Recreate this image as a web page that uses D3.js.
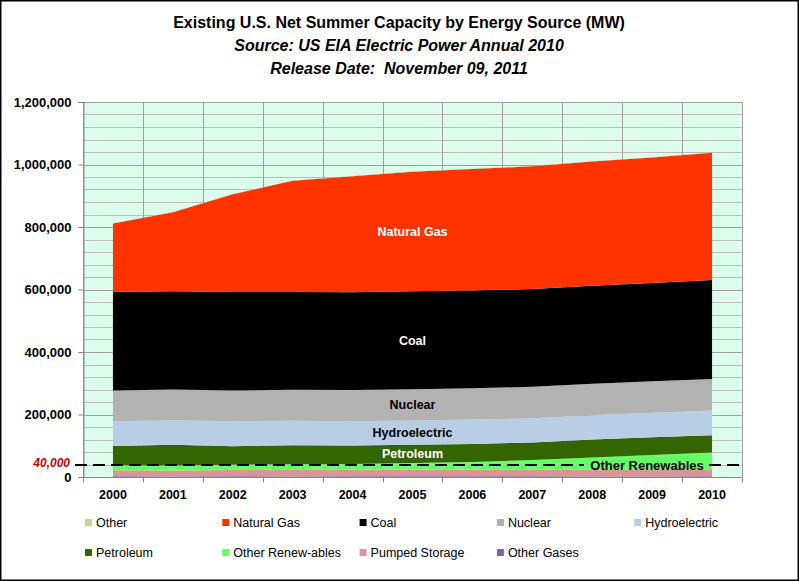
<!DOCTYPE html>
<html><head><meta charset="utf-8">
<script src="https://cdn.jsdelivr.net/npm/d3@7"></script>
<style>body{margin:0;background:#fff}svg{display:block}text{font-family:"Liberation Sans",Arial,sans-serif}</style>
</head><body><svg id="c" width="799" height="581"></svg>
<script>
const years = [2000,2001,2002,2003,2004,2005,2006,2007,2008,2009,2010];
const otherGases      = [2342,1670,2008,1994,2296,2063,2256,2313,1995,1932,2700];
const pumpedStorage   = [19522,19096,20373,20522,20764,21347,21461,21886,21858,22160,22268];
const otherRenewables = [15572,16101,16710,18199,18763,21205,24113,30069,38492,46138,53112];
const petroleum       = [61837,66162,59651,60730,59119,58548,58097,56068,57445,56781,55647];
const hydroelectric   = [79393,78916,79356,78694,77641,77541,77821,77885,77930,78518,78825];
const nuclear         = [97860,98159,98657,99209,99628,99988,100334,100266,100755,101004,101167];
const coal            = [315114,314230,315350,313019,313020,313380,312956,312738,313322,314294,316800];
const naturalGas      = [219590,252832,312512,355442,371011,383061,388294,392876,397432,401272,407028];
const other           = [519,581,686,638,700,887,882,788,942,888,1030];
const yTicks = [0,200000,400000,600000,800000,1000000,1200000];
const threshold = 40000;

const seriesDefs = [
  {key:"Other Gases", legend:"Other Gases", vals:otherGases, color:"#8064A2"},
  {key:"Pumped Storage", legend:"Pumped Storage", vals:pumpedStorage, color:"#D99694"},
  {key:"Other Renewables", legend:"Other Renew-ables", vals:otherRenewables, color:"#66FF66"},
  {key:"Petroleum", legend:"Petroleum", vals:petroleum, color:"#336600", label:"#fff"},
  {key:"Hydroelectric", legend:"Hydroelectric", vals:hydroelectric, color:"#B9CDE5", label:"#000"},
  {key:"Nuclear", legend:"Nuclear", vals:nuclear, color:"#B2B2B2", label:"#000"},
  {key:"Coal", legend:"Coal", vals:coal, color:"#000000", label:"#fff"},
  {key:"Natural Gas", legend:"Natural Gas", vals:naturalGas, color:"#FF3300", label:"#fff"},
  {key:"Other", legend:"Other", vals:other, color:"#C3D69B"}
];
const legendOrder = ["Other","Natural Gas","Coal","Nuclear","Hydroelectric","Petroleum","Other Renewables","Pumped Storage","Other Gases"];

const svg = d3.select("#c");
const L=83, R=742, T=102, B=477;
const x = d3.scalePoint().domain(years).range([L,R]).padding(0.5);
const y = d3.scaleLinear().domain([0,1200000]).range([B,T]);
const step = x.step();

// frame
svg.append("rect").attr("x",0.75).attr("y",0.75).attr("width",797.5).attr("height",579.5).attr("fill","#fff").attr("stroke","#000").attr("stroke-width",1.5);

// plot bg
svg.append("rect").attr("x",L).attr("y",T).attr("width",R-L).attr("height",B-T).attr("fill","#dcfdeb");

// horizontal grid
const minor = d3.range(0,1200001,40000);
svg.append("g").selectAll("line").data(minor).join("line")
  .attr("x1",L).attr("x2",R).attr("y1",d=>Math.round(y(d))+0.5).attr("y2",d=>Math.round(y(d))+0.5)
  .attr("stroke",d=>d%200000===0?"#a0a0a0":"#bdbdbd").attr("stroke-width",1);
// vertical grid
const bounds = d3.range(0,years.length+1).map(i=>L+i*step);
svg.append("g").selectAll("line").data(bounds).join("line")
  .attr("x1",d=>Math.round(d)+0.5).attr("x2",d=>Math.round(d)+0.5).attr("y1",T).attr("y2",B)
  .attr("stroke","#a0a0a0");

// stack
const table = years.map((yr,i)=>{const o={year:yr}; seriesDefs.forEach(s=>o[s.key]=s.vals[i]); return o;});
const stack = d3.stack().keys(seriesDefs.map(s=>s.key))(table);
const area = d3.area().x(d=>x(d.data.year)).y0(d=>y(d[0])).y1(d=>y(d[1]));
svg.append("g").selectAll("path").data(stack).join("path")
  .attr("d",area).attr("fill",(d,i)=>seriesDefs[i].color);

// axes
const yAxis = svg.append("g").attr("transform",`translate(${L+0.5},0)`)
  .call(d3.axisLeft(y).tickValues(yTicks).tickSize(5).tickFormat(d3.format(",")));
yAxis.select(".domain").attr("stroke","#868686");
yAxis.selectAll(".tick line").attr("stroke","#868686");
yAxis.selectAll("text").attr("font-size",13).attr("font-weight","bold").attr("fill","#000").attr("x",-12);

const xAxisG = svg.append("g").attr("transform",`translate(0,${B+0.5})`);
xAxisG.append("line").attr("x1",L).attr("x2",R).attr("stroke","#868686");
xAxisG.selectAll(".tk").data(bounds).join("line").attr("class","tk")
  .attr("x1",d=>Math.round(d)+0.5).attr("x2",d=>Math.round(d)+0.5).attr("y1",0).attr("y2",5).attr("stroke","#868686");
xAxisG.selectAll("text").data(years).join("text")
  .attr("x",d=>x(d)).attr("y",21).attr("text-anchor","middle")
  .attr("font-size",12.5).attr("font-weight","bold").text(d=>d);

// series labels at 2005 midpoint
const labYear = 2005, li = years.indexOf(labYear);
stack.forEach((s,i)=>{
  const def = seriesDefs[i];
  if(!def.label) return;
  const mid = (s[li][0]+s[li][1])/2;
  svg.append("text").attr("x",x(labYear)).attr("y",y(mid)).attr("dy","0.35em")
    .attr("text-anchor","middle").attr("font-size",12.5).attr("font-weight","bold")
    .attr("fill",def.label).text(def.key);
});

// 40,000 dashed line
const ty = Math.round(y(threshold));
svg.append("line").attr("x1",75).attr("x2",584).attr("y1",ty).attr("y2",ty)
  .attr("stroke","#000").attr("stroke-width",2).attr("stroke-dasharray","12,6");
svg.append("line").attr("x1",709).attr("x2",745).attr("y1",ty).attr("y2",ty)
  .attr("stroke","#000").attr("stroke-width",2).attr("stroke-dasharray","12,6");
svg.append("text").attr("x",647).attr("y",ty).attr("dy","0.35em").attr("text-anchor","middle")
  .attr("font-size",13).attr("font-weight","bold").text("Other Renewables");
svg.append("text").attr("x",70).attr("y",ty-2.5).attr("dy","0.35em").attr("text-anchor","end")
  .attr("font-size",12).attr("font-weight","bold").attr("font-style","italic").attr("fill","#d40000")
  .text(d3.format(",")(threshold));

// titles
const titles = [
  {t:"Existing U.S. Net Summer Capacity by Energy Source (MW)", y:22, it:false},
  {t:"Source: US EIA Electric Power Annual 2010", y:45, it:true},
  {t:"Release Date:  November 09, 2011", y:68, it:true}
];
titles.forEach(o=>svg.append("text").attr("x",399).attr("y",o.y).attr("dy","0.35em").attr("text-anchor","middle")
  .attr("font-size",16).attr("font-weight","bold").attr("font-style",o.it?"italic":"normal")
  .style("white-space","pre").attr("xml:space","preserve").text(o.t));

// legend
const lg = svg.append("g");
legendOrder.forEach((k,i)=>{
  const def = seriesDefs.find(s=>s.key===k);
  const col = i%5, row = Math.floor(i/5);
  const lx = 85 + col*137.3, ly = 523 + row*30;
  lg.append("rect").attr("x",lx).attr("y",ly-4).attr("width",7).attr("height",7).attr("fill",def.color);
  lg.append("text").attr("x",lx+11).attr("y",ly).attr("dy","0.35em").attr("font-size",12.5).text(def.legend);
});
</script></body></html>
